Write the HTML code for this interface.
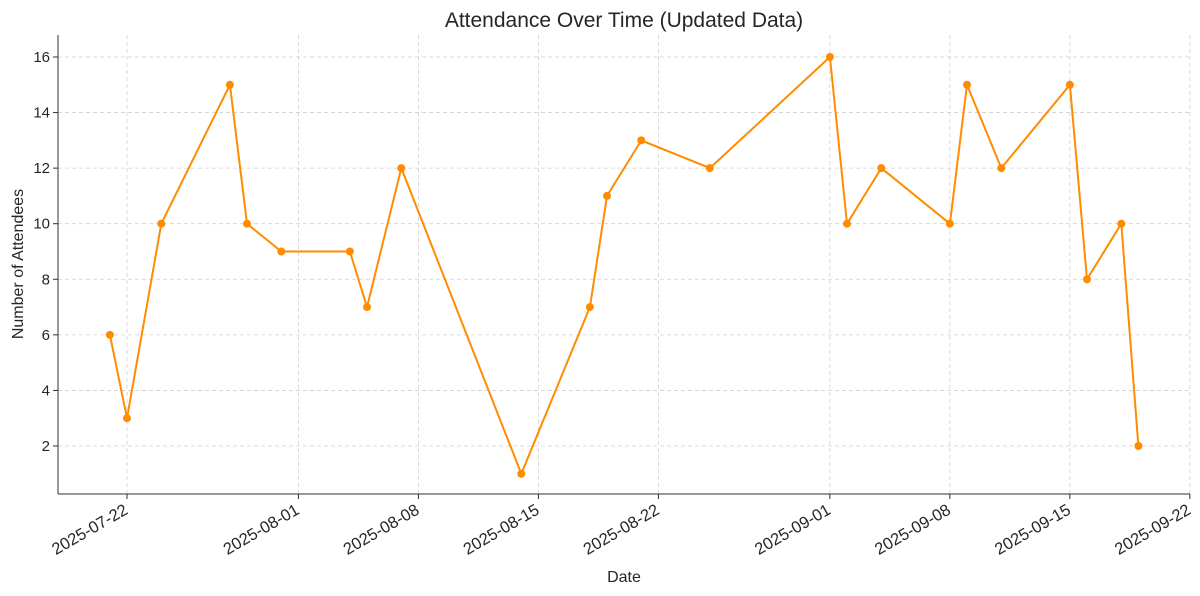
<!DOCTYPE html>
<html><head><meta charset="utf-8"><style>body{margin:0;background:#fff}svg{display:block}text{font-family:"Liberation Sans","DejaVu Sans",sans-serif;fill:#262626}</style></head>
<body>
<svg width="1200" height="596" xmlns="http://www.w3.org/2000/svg">
<rect width="1200" height="596" fill="#fff"/>
<text x="624" y="27" font-size="21" text-anchor="middle">Attendance Over Time (Updated Data)</text>
<g id="grid" stroke="#d0d0d0" stroke-width="0.8" stroke-dasharray="4,3"></g>
<g id="yt" font-size="15" text-anchor="end"></g>
<g id="xt" font-size="16.5" text-anchor="end"></g>
<line x1="58" y1="35" x2="58" y2="494" stroke="#333" stroke-width="1"/>
<line x1="58" y1="494" x2="1190" y2="494" stroke="#333" stroke-width="1"/>
<polyline id="ln" fill="none" stroke="#ff8c00" stroke-width="2"/>
<g id="pts" fill="#ff8c00"></g>
<text x="624" y="582" font-size="16" text-anchor="middle">Date</text>
<text transform="translate(23,264) rotate(-90)" font-size="16" text-anchor="middle">Number of Attendees</text>
</svg>
<script>
var ns="http://www.w3.org/2000/svg";
function el(p,t,a,txt){var e=document.createElementNS(ns,t);for(var k in a)e.setAttribute(k,a[k]);if(txt)e.textContent=txt;document.getElementById(p).appendChild(e);}
function X(d){return 127+d*120/7;}
function Y(v){return 446-(v-2)*27.786;}
for(var v=2;v<=16;v+=2){el('grid','line',{x1:58,x2:1190,y1:Y(v),y2:Y(v)});el('yt','text',{x:50,y:Y(v)+5},String(v));}
var tk=[[0,'2025-07-22'],[10,'2025-08-01'],[17,'2025-08-08'],[24,'2025-08-15'],[31,'2025-08-22'],[41,'2025-09-01'],[48,'2025-09-08'],[55,'2025-09-15'],[62,'2025-09-22']];
tk.forEach(function(t){var x=X(t[0]);el('grid','line',{x1:x,x2:x,y1:35,y2:494});
 el('xt','line',{x1:x,x2:x,y1:494,y2:499,stroke:'#333'});
 el('xt','text',{x:x+2,y:513,transform:'rotate(-30 '+(x+2)+' 513)'},t[1]);});
for(var v=2;v<=16;v+=2)el('yt','line',{x1:53,x2:58,y1:Y(v),y2:Y(v),stroke:'#333'});
var d=[-1,0,2,6,7,9,13,14,16,23,27,28,30,34,41,42,44,48,49,51,55,56,58,59];
var vals=[6,3,10,15,10,9,9,7,12,1,7,11,13,12,16,10,12,10,15,12,15,8,10,2];
var pts=d.map(function(x,i){return X(x).toFixed(1)+','+Y(vals[i]).toFixed(1);});
document.getElementById('ln').setAttribute('points',pts.join(' '));
d.forEach(function(x,i){el('pts','circle',{cx:X(x),cy:Y(vals[i]),r:4});});
</script>
</body></html>
